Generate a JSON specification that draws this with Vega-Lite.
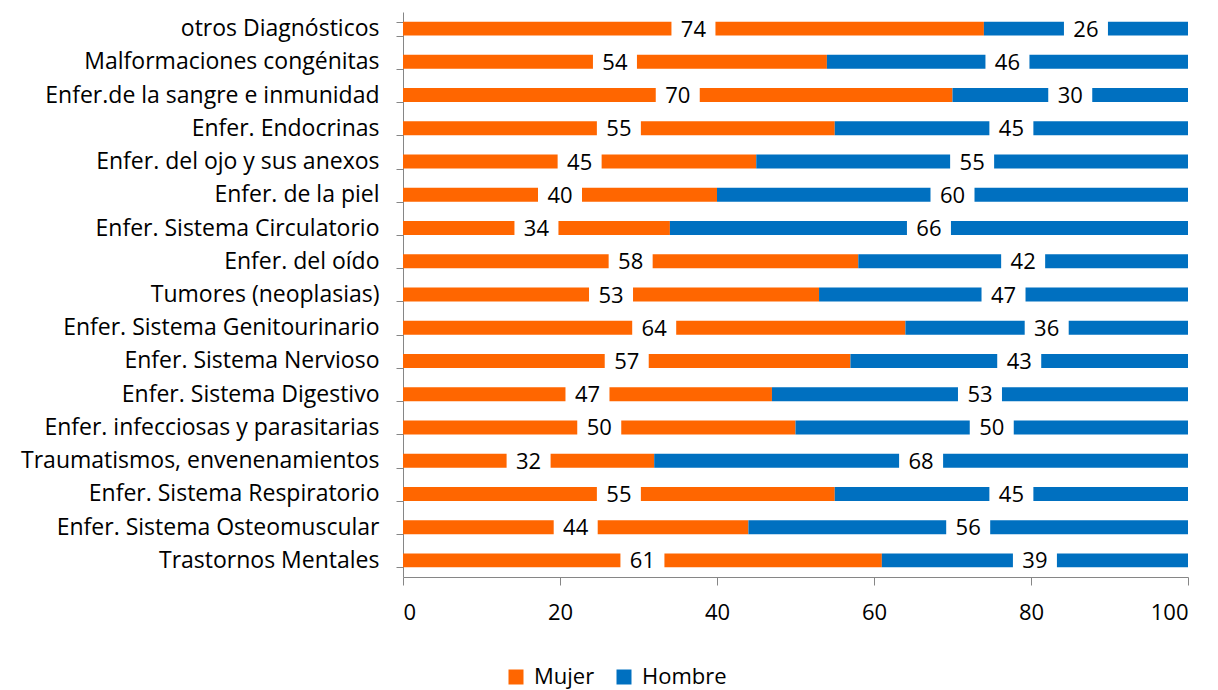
{
  "$schema": "https://vega.github.io/schema/vega-lite/v6.json",
  "width": 785,
  "height": 565,
  "autosize": {"type": "none"},
  "padding": {"left": 403, "top": 12, "right": 30, "bottom": 113},
  "background": "white",
  "config": {
    "view": {"stroke": null},
    "font": "Open Sans",
    "axis": {"domainColor": "#868686", "tickColor": "#868686", "grid": false, "labelColor": "#000000", "labelFont": "Open Sans"},
    "legend": {"labelFont": "Open Sans", "labelColor": "#000000"}
  },
  "datasets": {
    "diagnosticos": [
      {"categoria": "otros Diagnósticos", "sexo": "Mujer", "valor": 74},
      {"categoria": "otros Diagnósticos", "sexo": "Hombre", "valor": 26},
      {"categoria": "Malformaciones congénitas\u00a0", "sexo": "Mujer", "valor": 54},
      {"categoria": "Malformaciones congénitas\u00a0", "sexo": "Hombre", "valor": 46},
      {"categoria": "Enfer.de la sangre e inmunidad", "sexo": "Mujer", "valor": 70},
      {"categoria": "Enfer.de la sangre e inmunidad", "sexo": "Hombre", "valor": 30},
      {"categoria": "Enfer. Endocrinas", "sexo": "Mujer", "valor": 55},
      {"categoria": "Enfer. Endocrinas", "sexo": "Hombre", "valor": 45},
      {"categoria": "Enfer. del ojo y sus anexos", "sexo": "Mujer", "valor": 45},
      {"categoria": "Enfer. del ojo y sus anexos", "sexo": "Hombre", "valor": 55},
      {"categoria": "Enfer. de la piel", "sexo": "Mujer", "valor": 40},
      {"categoria": "Enfer. de la piel", "sexo": "Hombre", "valor": 60},
      {"categoria": "Enfer. Sistema Circulatorio", "sexo": "Mujer", "valor": 34},
      {"categoria": "Enfer. Sistema Circulatorio", "sexo": "Hombre", "valor": 66},
      {"categoria": "Enfer. del oído\u00a0", "sexo": "Mujer", "valor": 58},
      {"categoria": "Enfer. del oído\u00a0", "sexo": "Hombre", "valor": 42},
      {"categoria": "Tumores (neoplasias)", "sexo": "Mujer", "valor": 53},
      {"categoria": "Tumores (neoplasias)", "sexo": "Hombre", "valor": 47},
      {"categoria": "Enfer. Sistema Genitourinario", "sexo": "Mujer", "valor": 64},
      {"categoria": "Enfer. Sistema Genitourinario", "sexo": "Hombre", "valor": 36},
      {"categoria": "Enfer. Sistema Nervioso", "sexo": "Mujer", "valor": 57},
      {"categoria": "Enfer. Sistema Nervioso", "sexo": "Hombre", "valor": 43},
      {"categoria": "Enfer. Sistema Digestivo", "sexo": "Mujer", "valor": 47},
      {"categoria": "Enfer. Sistema Digestivo", "sexo": "Hombre", "valor": 53},
      {"categoria": "Enfer. infecciosas y parasitarias", "sexo": "Mujer", "valor": 50},
      {"categoria": "Enfer. infecciosas y parasitarias", "sexo": "Hombre", "valor": 50},
      {"categoria": "Traumatismos, envenenamientos\u00a0", "sexo": "Mujer", "valor": 32},
      {"categoria": "Traumatismos, envenenamientos\u00a0", "sexo": "Hombre", "valor": 68},
      {"categoria": "Enfer. Sistema Respiratorio", "sexo": "Mujer", "valor": 55},
      {"categoria": "Enfer. Sistema Respiratorio", "sexo": "Hombre", "valor": 45},
      {"categoria": "Enfer. Sistema Osteomuscular\u00a0", "sexo": "Mujer", "valor": 44},
      {"categoria": "Enfer. Sistema Osteomuscular\u00a0", "sexo": "Hombre", "valor": 56},
      {"categoria": "Trastornos Mentales\u00a0", "sexo": "Mujer", "valor": 61},
      {"categoria": "Trastornos Mentales\u00a0", "sexo": "Hombre", "valor": 39}
    ]
  },
  "data": {"name": "diagnosticos"},
  "encoding": {
    "y": {
      "field": "categoria",
      "type": "nominal",
      "sort": null,
      "title": null,
      "scale": {"paddingInner": 0.58, "paddingOuter": 0.29},
      "axis": {
        "labelFontSize": 23,
        "labelPadding": 17,
        "tickSize": 7,
        "tickBand": "extent",
        "labelLimit": 420
      }
    },
    "order": {"field": "sexo", "sort": "descending"}
  },
  "layer": [
    {
      "mark": {"type": "bar"},
      "encoding": {
        "x": {
          "field": "valor",
          "type": "quantitative",
          "stack": "zero",
          "title": null,
          "scale": {"domain": [0, 100], "nice": false},
          "axis": {
            "values": [0, 20, 40, 60, 80, 100],
            "labelFontSize": 22,
            "tickSize": 8,
            "labelPadding": 17
          }
        },
        "color": {
          "field": "sexo",
          "type": "nominal",
          "sort": ["Mujer", "Hombre"],
          "scale": {"domain": ["Mujer", "Hombre"], "range": ["#FF6600", "#0070C0"]},
          "legend": {
            "title": null,
            "orient": "none",
            "direction": "horizontal",
            "legendX": 102,
            "legendY": 654,
            "symbolType": "square",
            "symbolSize": 225,
            "symbolStrokeWidth": 0,
            "labelFontSize": 22,
            "columnPadding": 18,
            "labelOffset": 7
          }
        }
      }
    },
    {
      "mark": {"type": "tick", "color": "white", "thickness": 44, "size": 24, "opacity": 1},
      "encoding": {
        "x": {"field": "valor", "type": "quantitative", "stack": "zero", "bandPosition": 0.5},
        "detail": {"field": "sexo"}
      }
    },
    {
      "mark": {"type": "text", "fontSize": 22, "color": "black", "baseline": "middle", "dy": 1},
      "encoding": {
        "x": {"field": "valor", "type": "quantitative", "stack": "zero", "bandPosition": 0.5},
        "detail": {"field": "sexo"},
        "text": {"field": "valor", "type": "quantitative"}
      }
    }
  ]
}
